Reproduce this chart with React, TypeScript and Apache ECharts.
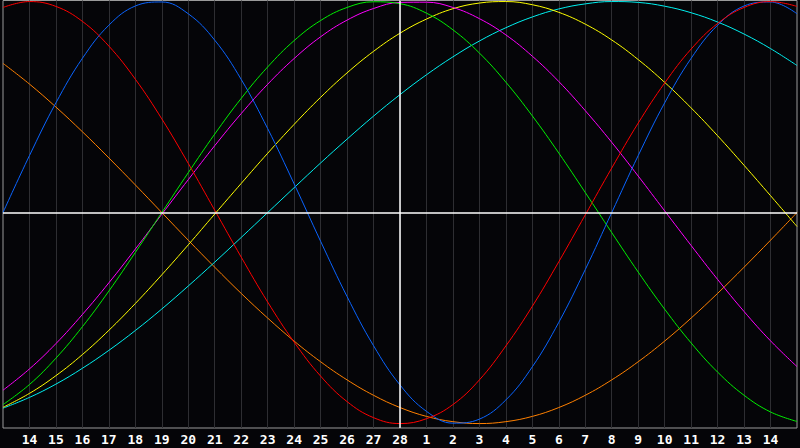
import React, { useEffect, useRef } from "react";
import * as echarts from "echarts";

// Day labels across the window (first and last are edges, not labelled)
const days = [
  "13", "14", "15", "16", "17", "18", "19", "20", "21", "22", "23", "24", "25", "26", "27", "28",
  "1", "2", "3", "4", "5", "6", "7", "8", "9", "10", "11", "12", "13", "14", "15",
];
const today = "28";

const physical = [
  0, 0.27, 0.52, 0.731, 0.888, 0.979, 0.998, 0.942, 0.817, 0.631, 0.398, 0.136, -0.136, -0.398, -0.631,
  -0.817, -0.942, -0.998, -0.979, -0.888, -0.731, -0.52, -0.27, 0, 0.27, 0.52, 0.731, 0.888, 0.979, 0.998, 0.942,
];
const emotional = [
  0.972, 1.0, 0.977, 0.906, 0.789, 0.632, 0.444, 0.233, 0.011, -0.211, -0.424, -0.614, -0.775, -0.896, -0.972,
  -1.0, -0.977, -0.91, -0.793, -0.632, -0.444, -0.233, -0.011, 0.211, 0.424, 0.614, 0.775, 0.896, 0.972, 1.0, 0.977,
];
const intellectual = [
  -0.91, -0.815, -0.69, -0.541, -0.372, -0.189, 0, 0.189, 0.372, 0.541, 0.69, 0.815, 0.91, 0.972, 0.999,
  0.99, 0.945, 0.866, 0.756, 0.618, 0.458, 0.282, 0.095, -0.095, -0.282, -0.458, -0.618, -0.756, -0.866, -0.945, -0.99,
];
const intuitive = [
  -0.842, -0.741, -0.621, -0.483, -0.333, -0.173, -0.008, 0.156, 0.317, 0.469, 0.608, 0.73, 0.833, 0.912, 0.967,
  0.996, 0.997, 0.972, 0.919, 0.842, 0.741, 0.621, 0.483, 0.333, 0.173, 0.008, -0.156, -0.317, -0.469, -0.608, -0.73,
];
const aesthetic = [
  -0.923, -0.857, -0.773, -0.673, -0.558, -0.431, -0.295, -0.153, -0.007, 0.138, 0.281, 0.418, 0.546, 0.662, 0.764,
  0.85, 0.917, 0.966, 0.993, 1.0, 0.985, 0.949, 0.893, 0.818, 0.725, 0.617, 0.496, 0.364, 0.224, 0.08, -0.066,
];
const spiritual = [
  -0.927, -0.876, -0.813, -0.738, -0.653, -0.559, -0.457, -0.348, -0.235, -0.118, 0, 0.118, 0.235, 0.348, 0.457,
  0.559, 0.653, 0.738, 0.813, 0.876, 0.927, 0.965, 0.989, 1.0, 0.996, 0.978, 0.947, 0.903, 0.846, 0.777, 0.697,
];
const awareness = [
  0.707, 0.609, 0.5, 0.383, 0.259, 0.131, 0, -0.131, -0.259, -0.383, -0.5, -0.609, -0.707, -0.793, -0.866,
  -0.924, -0.966, -0.991, -1.0, -0.991, -0.966, -0.924, -0.866, -0.793, -0.707, -0.609, -0.5, -0.383, -0.259, -0.131, 0,
];

const seriesDefs = [
  { name: "Awareness", data: awareness, color: "#ff8000" },
  { name: "Spiritual", data: spiritual, color: "#00f0f0" },
  { name: "Aesthetic", data: aesthetic, color: "#ffff00" },
  { name: "Intuitive", data: intuitive, color: "#ff00ff" },
  { name: "Intellectual", data: intellectual, color: "#00f000" },
  { name: "Physical", data: physical, color: "#0a64ff" },
  { name: "Emotional", data: emotional, color: "#ff0000" },
];

export default function App() {
  const ref = useRef<HTMLDivElement>(null);
  useEffect(() => {
    if (!ref.current) return;
    const chart = echarts.init(ref.current, null, { renderer: "svg" });
    const last = days.length - 1;
    chart.setOption({
      animation: false,
      backgroundColor: "#050508",
      grid: {
        show: true,
        left: 0.5,
        top: 0.5,
        width: 798,
        height: 427.5,
        borderColor: "#9a9a9a",
        borderWidth: 1,
        backgroundColor: "transparent",
      },
      xAxis: {
        type: "category",
        data: days,
        boundaryGap: false,
        axisLine: { show: false },
        axisTick: { show: false },
        axisLabel: {
          interval: 0,
          color: "#ffffff",
          fontFamily: "DejaVu Sans Mono",
          fontWeight: "bold",
          fontSize: 13,
          margin: 5,
          formatter: (v: string, i: number) => (i === 0 || i === last ? "" : v),
        },
        splitLine: {
          show: true,
          interval: (i: number) => i !== 0 && i !== last,
          lineStyle: { color: "#2e2e32", width: 1 },
        },
      },
      yAxis: {
        type: "value",
        min: -1.021,
        max: 1.005,
        show: false,
        splitLine: { show: false },
      },
      series: [
        {
          type: "line",
          name: "ref",
          data: [],
          z: 1,
          silent: true,
          markLine: {
            silent: true,
            symbol: "none",
            label: { show: false },
            lineStyle: { color: "#ffffff", width: 1.5, type: "solid" },
            data: [{ xAxis: today }, { yAxis: 0 }],
          },
        },
        ...seriesDefs.map((s) => ({
          type: "line",
          name: s.name,
          data: s.data,
          smooth: 0.4,
          showSymbol: false,
          symbol: "none",
          z: 3,
          lineStyle: { color: s.color, width: 1 },
          itemStyle: { color: s.color },
        })),
      ],
    });
    return () => chart.dispose();
  }, []);
  return (
    <div
      ref={ref}
      style={{ position: "fixed", left: 0, top: 0, width: 800, height: 448 }}
    />
  );
}
